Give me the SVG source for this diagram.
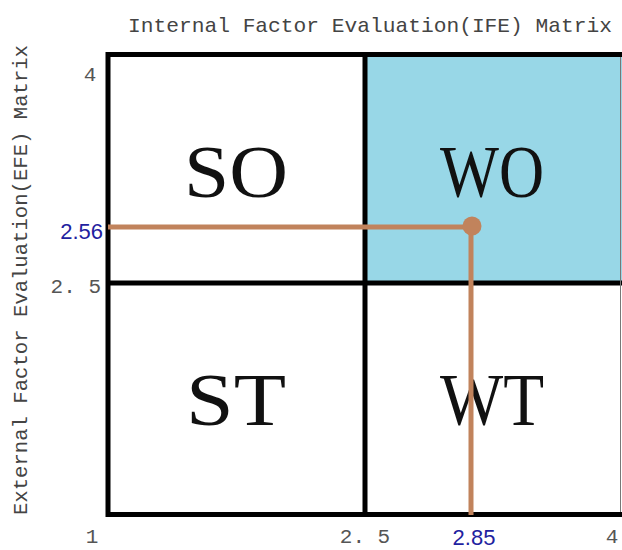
<svg xmlns="http://www.w3.org/2000/svg" width="622" height="550" viewBox="0 0 622 550">
<style>
.axis{font-family:"Liberation Mono","DejaVu Sans Mono",monospace;font-size:21px;fill:#444}
.tick{font-family:"Liberation Mono","DejaVu Sans Mono",monospace;font-size:21px;fill:#555}
.val{font-family:"Liberation Sans",Arial,sans-serif;font-size:22px;fill:#1f22a0}
.quad{font-family:"Liberation Serif","Times New Roman",serif;font-size:74px;fill:#111;text-anchor:middle}
.grid{stroke:#000;stroke-width:5;fill:none}
.lead{stroke:#c1835c;stroke-width:5;fill:none}
</style>
<rect width="622" height="550" fill="#fff"/>
<text class="axis" x="612" y="32" text-anchor="end" textLength="484" lengthAdjust="spacingAndGlyphs">Internal Factor Evaluation(IFE) Matrix</text>
<text class="axis" transform="translate(27,280) rotate(-90)" text-anchor="middle" textLength="470" lengthAdjust="spacingAndGlyphs">External Factor Evaluation(EFE) Matrix</text>
<g id="WO"><rect x="365" y="54.5" width="260" height="228.5" fill="#98d7e7"/><text class="quad" x="492" y="197" textLength="104" lengthAdjust="spacingAndGlyphs">WO</text></g>
<g id="SO"><text class="quad" x="236" y="197" textLength="104" lengthAdjust="spacingAndGlyphs">SO</text></g>
<g id="ST"><text class="quad" x="236" y="425" textLength="100" lengthAdjust="spacingAndGlyphs">ST</text></g>
<g id="WT"><text class="quad" x="492" y="425" textLength="104" lengthAdjust="spacingAndGlyphs">WT</text></g>
<g id="grid">
<rect class="grid" x="108" y="54.5" width="520" height="460"/>
<line class="grid" x1="365" y1="54.5" x2="365" y2="514.5"/>
<line class="grid" x1="108" y1="283" x2="628" y2="283"/>
<line x1="620.5" y1="57" x2="620.5" y2="512" stroke="#777" stroke-width="1"/>
</g>
<g id="connectors">
<line class="lead" x1="108" y1="227" x2="472" y2="227"/>
<line class="lead" x1="471" y1="227" x2="471" y2="515"/>
<circle cx="472" cy="226" r="9.5" fill="#c1835c"/>
</g>
<g id="ticks">
<text class="tick" x="90" y="81" text-anchor="middle">4</text>
<text class="tick" x="101" y="293" text-anchor="end">2. 5</text>
<text class="val" x="103" y="239" text-anchor="end">2.56</text>
<text class="tick" x="92" y="543" text-anchor="middle">1</text>
<text class="tick" x="365" y="543" text-anchor="middle">2. 5</text>
<text class="val" x="474" y="545" text-anchor="middle">2.85</text>
<text class="tick" x="612" y="543" text-anchor="middle">4</text>
</g>
</svg>
